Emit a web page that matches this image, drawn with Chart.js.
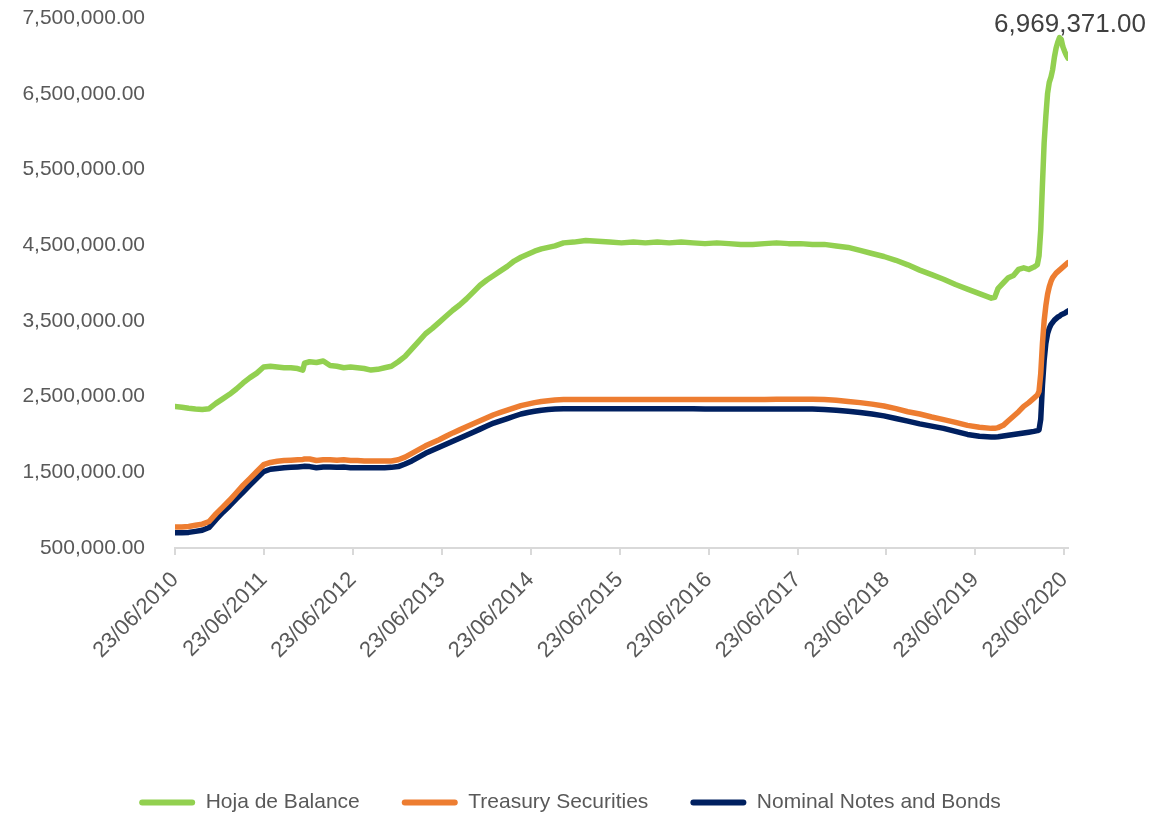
<!DOCTYPE html>
<html>
<head>
<meta charset="utf-8">
<script src="https://cdn.jsdelivr.net/npm/chart.js@4.4.1/dist/chart.umd.min.js"></script>
<style>
  html, body { margin: 0; padding: 0; background: #ffffff; }
  #wrap { width: 1173px; height: 814px; position: relative; }
</style>
</head>
<body>
<div id="wrap"><canvas id="c" width="1173" height="814"></canvas></div>
<script>
// ---- data ----
const dates = [
  "2010-06-23","2010-07-21","2010-08-18","2010-09-15","2010-10-13","2010-11-10","2010-12-08",
  "2011-01-05","2011-02-02","2011-03-02","2011-03-30","2011-04-27","2011-05-25","2011-06-22",
  "2011-07-20","2011-08-17","2011-09-14","2011-10-12","2011-11-09","2011-11-30","2011-12-07",
  "2011-12-28","2012-01-25","2012-02-22","2012-03-21","2012-04-18","2012-05-16","2012-06-13",
  "2012-07-11","2012-08-08","2012-09-05","2012-10-03","2012-10-31","2012-11-28","2012-12-26",
  "2013-01-23","2013-02-20","2013-03-20","2013-04-17","2013-05-15","2013-06-12","2013-07-10",
  "2013-08-07","2013-09-04","2013-10-02","2013-10-30","2013-11-27","2013-12-25","2014-01-22",
  "2014-02-19","2014-03-19","2014-04-16","2014-05-14","2014-06-11","2014-07-09","2014-08-06",
  "2014-09-03","2014-10-01","2014-11-05","2014-12-17","2015-02-04","2015-03-25","2015-05-13",
  "2015-07-01","2015-08-19","2015-10-07","2015-11-25","2016-01-13","2016-03-02","2016-04-20",
  "2016-06-08","2016-07-27","2016-09-14","2016-11-02","2016-12-21","2017-02-08","2017-03-29",
  "2017-05-17","2017-07-05","2017-08-23","2017-10-11","2017-11-29","2018-01-17","2018-03-07",
  "2018-04-25","2018-06-13","2018-08-01","2018-09-19","2018-11-07","2018-12-26","2019-02-13",
  "2019-04-03","2019-05-22","2019-07-10","2019-08-28","2019-09-11","2019-09-25","2019-10-16",
  "2019-11-06","2019-11-27","2019-12-18","2020-01-08","2020-01-29","2020-02-19","2020-03-04",
  "2020-03-11","2020-03-18","2020-03-25","2020-04-01","2020-04-08","2020-04-15","2020-04-22",
  "2020-04-29","2020-05-06","2020-05-13","2020-05-20","2020-05-27","2020-06-03","2020-06-10",
  "2020-06-17","2020-06-24","2020-07-01","2020-07-08"
];

const hojaDeBalance = [
  2370000,2360000,2345000,2335000,2330000,2340000,2410000,
  2470000,2530000,2600000,2680000,2750000,2810000,2890000,
  2900000,2890000,2880000,2880000,2870000,2850000,2940000,
  2960000,2950000,2970000,2910000,2900000,2880000,2890000,
  2880000,2870000,2850000,2860000,2880000,2900000,2960000,
  3030000,3130000,3230000,3330000,3400000,3480000,3560000,
  3640000,3710000,3790000,3880000,3970000,4040000,4100000,
  4160000,4220000,4290000,4340000,4380000,4420000,4450000,
  4470000,4490000,4530000,4540000,4560000,4550000,4540000,
  4530000,4540000,4530000,4540000,4530000,4540000,4530000,
  4520000,4530000,4520000,4510000,4510000,4520000,4530000,
  4520000,4520000,4510000,4510000,4490000,4470000,4430000,
  4390000,4350000,4300000,4240000,4170000,4110000,4050000,
  3980000,3920000,3860000,3800000,3810000,3930000,4000000,
  4070000,4100000,4180000,4200000,4180000,4210000,4240000,
  4360000,4700000,5300000,5850000,6200000,6500000,6650000,
  6720000,6820000,6980000,7100000,7180000,7240000,7220000,
  7120000,7060000,7010000,6969371
];

const treasurySecurities = [
  777000,778000,785000,800000,815000,850000,950000,
  1040000,1130000,1230000,1330000,1420000,1510000,1600000,
  1630000,1645000,1655000,1660000,1665000,1670000,1675000,
  1675000,1655000,1665000,1665000,1660000,1665000,1655000,
  1655000,1650000,1650000,1650000,1650000,1650000,1665000,
  1700000,1750000,1800000,1850000,1890000,1930000,1975000,
  2020000,2060000,2100000,2140000,2180000,2220000,2260000,
  2290000,2320000,2350000,2380000,2400000,2420000,2435000,
  2445000,2455000,2460000,2460000,2460000,2460000,2460000,
  2460000,2460000,2460000,2460000,2460000,2460000,2460000,
  2460000,2460000,2460000,2460000,2460000,2460000,2465000,
  2465000,2465000,2465000,2460000,2450000,2435000,2420000,
  2400000,2375000,2340000,2300000,2270000,2230000,2195000,
  2160000,2120000,2095000,2080000,2080000,2090000,2120000,
  2180000,2240000,2300000,2370000,2420000,2480000,2520000,
  2570000,2800000,3200000,3500000,3700000,3850000,3950000,
  4020000,4070000,4100000,4130000,4150000,4170000,4190000,
  4210000,4230000,4250000,4270000
];

const nominalNotesAndBonds = [
  700000,701000,706000,720000,735000,770000,875000,
  970000,1055000,1150000,1240000,1330000,1420000,1510000,
  1540000,1550000,1560000,1565000,1570000,1575000,1580000,
  1575000,1560000,1570000,1570000,1565000,1570000,1560000,
  1560000,1560000,1560000,1560000,1560000,1565000,1575000,
  1610000,1650000,1700000,1750000,1790000,1830000,1870000,
  1910000,1950000,1990000,2030000,2070000,2110000,2150000,
  2180000,2210000,2240000,2270000,2290000,2305000,2320000,
  2330000,2335000,2340000,2340000,2340000,2340000,2340000,
  2340000,2340000,2340000,2340000,2340000,2340000,2340000,
  2335000,2335000,2335000,2335000,2335000,2335000,2335000,
  2335000,2335000,2335000,2330000,2320000,2305000,2290000,
  2270000,2245000,2210000,2175000,2140000,2110000,2080000,
  2040000,2000000,1975000,1965000,1965000,1970000,1980000,
  1990000,2000000,2010000,2020000,2030000,2040000,2050000,
  2060000,2200000,2650000,2980000,3200000,3330000,3400000,
  3450000,3480000,3510000,3530000,3550000,3560000,3580000,
  3590000,3600000,3615000,3630000
];

const seriesNames = ["Hoja de Balance", "Treasury Securities", "Nominal Notes and Bonds"];
const seriesColors = ["#92D050", "#ED7D31", "#002060"];
const tickYears = [2010,2011,2012,2013,2014,2015,2016,2017,2018,2019,2020];
const yMin = 500000, yMax = 7500000, yStep = 1000000;

// ---- helpers ----
const FONT = "'Liberation Sans', Arial, sans-serif";
const fmt2 = v => Number(v).toLocaleString('en-US', {minimumFractionDigits: 2, maximumFractionDigits: 2});
const pad2 = n => (n < 10 ? '0' : '') + n;
const toPts = arr => dates.map((d, i) => ({x: Date.parse(d + "T00:00:00Z"), y: arr[i]}));

const seriesValues = [hojaDeBalance, treasurySecurities, nominalNotesAndBonds];

const lastLabelPlugin = {
  id: 'lastLabel',
  afterDatasetsDraw(chart) {
    const meta = chart.getDatasetMeta(0);
    const pt = meta.data[meta.data.length - 1];
    const ctx = chart.ctx;
    ctx.save();
    ctx.font = "26px " + FONT;
    ctx.fillStyle = "#404040";
    ctx.textAlign = "center";
    ctx.textBaseline = "alphabetic";
    ctx.fillText(fmt2(hojaDeBalance[hojaDeBalance.length - 1]), pt.x + 2, pt.y - 26);
    ctx.restore();
  }
};

const legendShiftPlugin = {
  id: 'legendShift',
  afterLayout(chart) {
    const lg = chart.legend;
    if (lg) { lg.top += 9; lg.bottom += 9; lg.left += 36; lg.right += 36; }
  }
};

const ctx = document.getElementById('c').getContext('2d');
new Chart(ctx, {
  type: 'line',
  data: {
    datasets: seriesNames.map((name, i) => ({
      label: name,
      data: toPts(seriesValues[i]),
      borderColor: seriesColors[i],
      backgroundColor: seriesColors[i],
      borderWidth: 5.5,
      pointRadius: 0,
      pointHoverRadius: 0,
      tension: 0,
      borderCapStyle: 'round',
      borderJoinStyle: 'round',
      fill: false
    }))
  },
  options: {
    responsive: false,
    animation: false,
    events: [],
    layout: { padding: { left: 0, right: 105, top: 18, bottom: 0 } },
    plugins: {
      tooltip: { enabled: false },
      legend: {
        display: true,
        position: 'bottom',
        align: 'center',
        labels: {
          color: '#595959',
          font: { family: FONT, size: 21 },
          boxWidth: 56,
          boxHeight: 6,
          padding: 42,
          useBorderRadius: true,
          borderRadius: 3,
          generateLabels(chart) {
            const items = Chart.defaults.plugins.legend.labels.generateLabels(chart);
            items.forEach(it => { it.lineWidth = 0; it.fillStyle = it.strokeStyle; });
            return items;
          }
        }
      }
    },
    scales: {
      x: {
        type: 'linear',
        min: Date.parse(dates[0] + "T00:00:00Z"),
        max: Date.parse(dates[dates.length - 1] + "T00:00:00Z"),
        afterBuildTicks(scale) {
          scale.ticks = tickYears.map(y => ({ value: Date.UTC(y, 5, 23) }));
        },
        afterFit(scale) {
          scale.height = 193;
          scale.paddingLeft = 0; scale.paddingRight = 0;
        },
        ticks: {
          autoSkip: false,
          minRotation: 45,
          maxRotation: 45,
          color: '#595959',
          font: { family: FONT, size: 22 },
          padding: 12,
          callback(v) {
            const d = new Date(v);
            return pad2(d.getUTCDate()) + '/' + pad2(d.getUTCMonth() + 1) + '/' + d.getUTCFullYear();
          }
        },
        grid: {
          display: true,
          drawOnChartArea: false,
          drawTicks: true,
          tickLength: 7,
          color: '#D9D9D9',
          lineWidth: 2
        },
        border: { display: true, color: '#D9D9D9', width: 2 }
      },
      y: {
        type: 'linear',
        min: yMin,
        max: yMax,
        afterFit(scale) {
          scale.width = 175;
          scale.paddingTop = 12; scale.paddingBottom = 12;
        },
        ticks: {
          stepSize: yStep,
          color: '#595959',
          font: { family: FONT, size: 21 },
          padding: 22,
          callback: v => fmt2(v)
        },
        grid: { display: false },
        border: { display: false }
      }
    }
  },
  plugins: [lastLabelPlugin, legendShiftPlugin]
});
</script>
</body>
</html>
